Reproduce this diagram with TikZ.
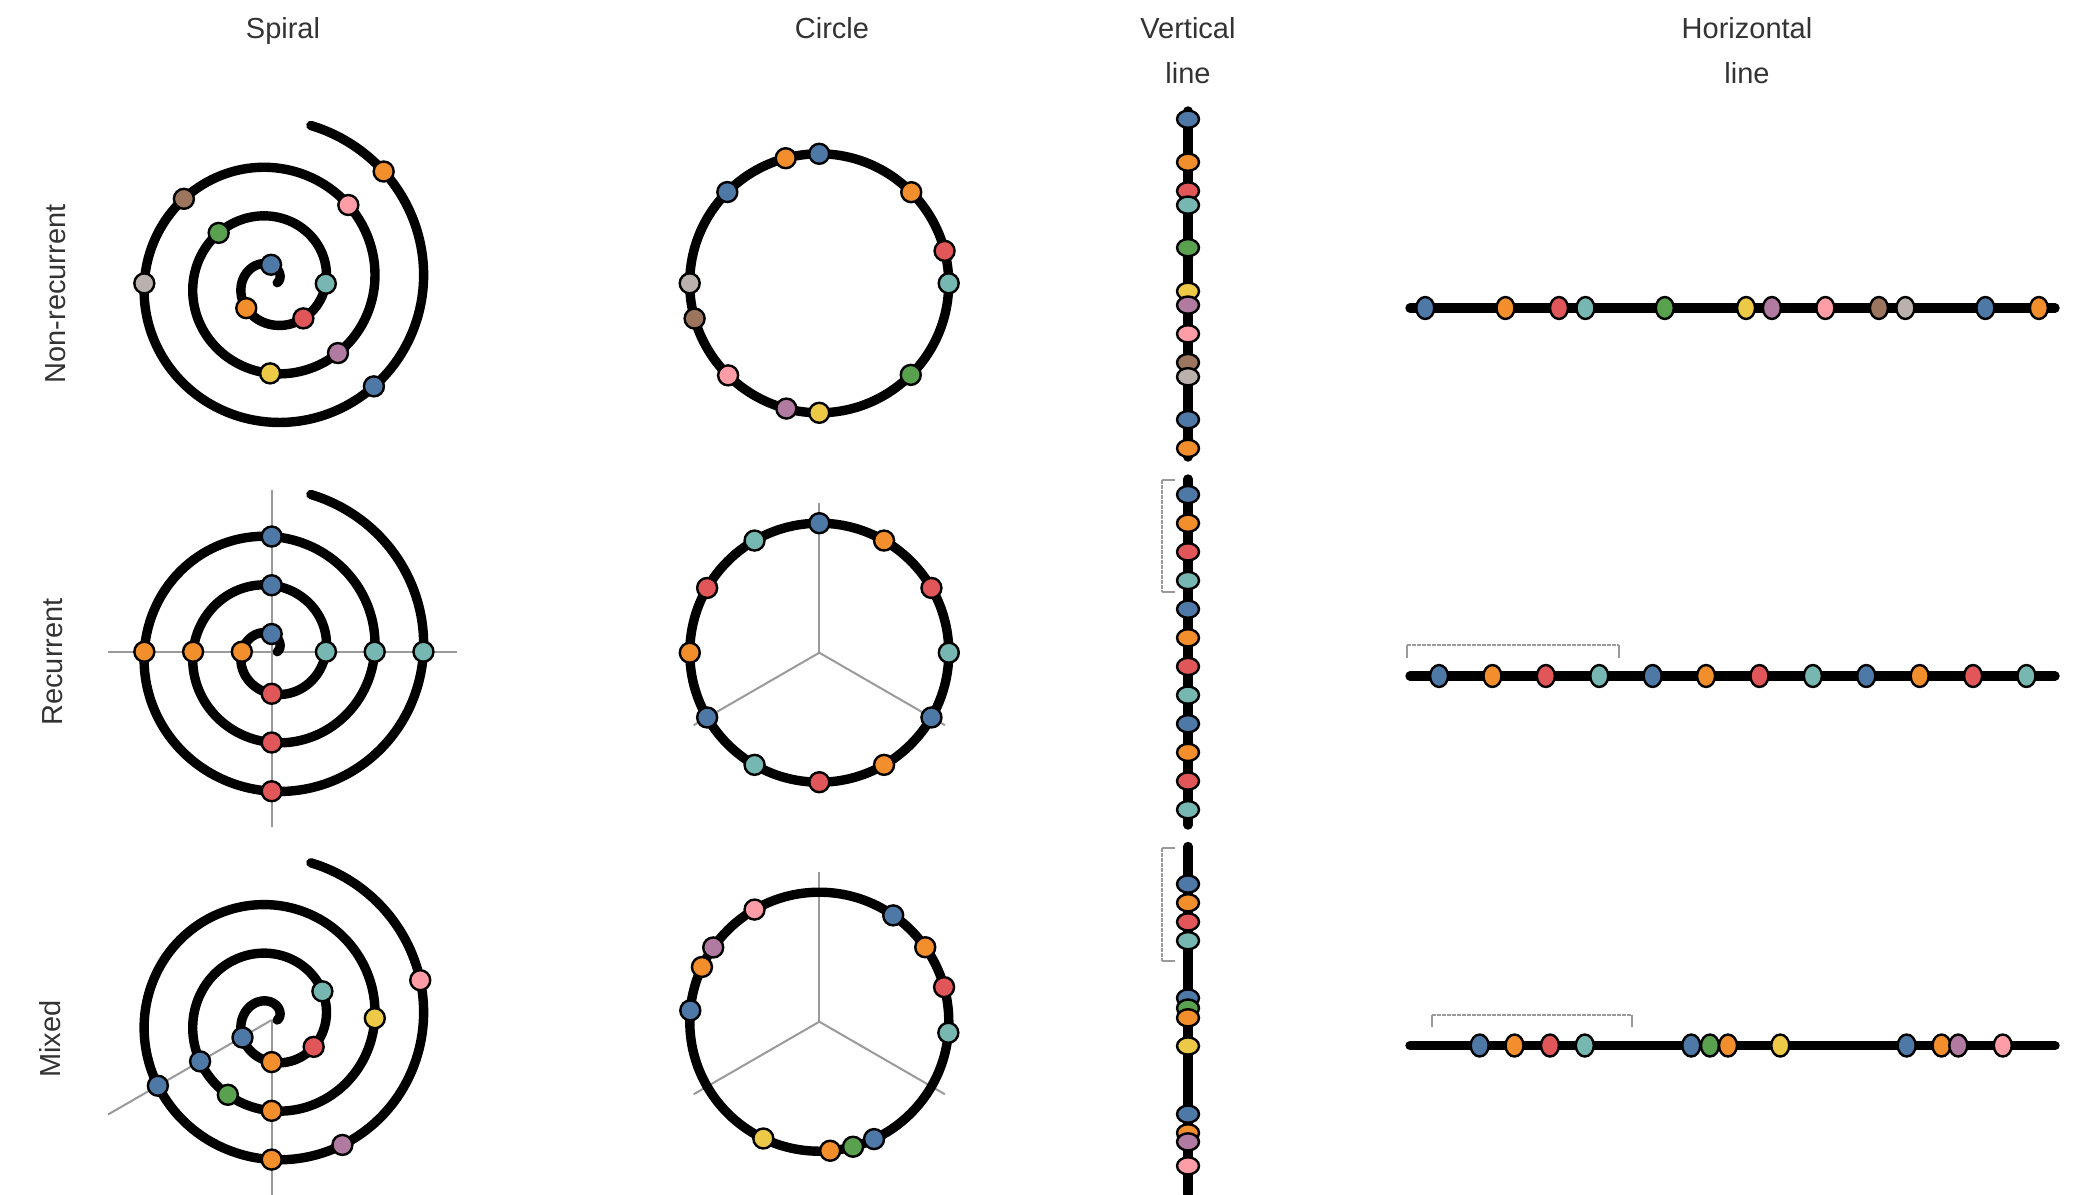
\documentclass[tikz,border=0pt]{standalone}
\usepackage{fontspec}
\setmainfont{Liberation Sans}
\usetikzlibrary{calc, shapes.geometric}

\definecolor{tblue}{HTML}{4E79A7}
\definecolor{torange}{HTML}{F28E2B}
\definecolor{tred}{HTML}{E15759}
\definecolor{tteal}{HTML}{76B7B2}
\definecolor{tgreen}{HTML}{59A14F}
\definecolor{tyellow}{HTML}{EDC948}
\definecolor{tpurple}{HTML}{B07AA1}
\definecolor{tpink}{HTML}{FF9DA7}
\definecolor{tbrown}{HTML}{9C755F}
\definecolor{tgray}{HTML}{BAB0AC}
\definecolor{labelgray}{HTML}{333333}
\definecolor{guidegray}{HTML}{9A9A9A}

% 螺旋半径 r = a + b*theta
\newcommand{\sprad}[1]{5.5+0.1354*#1}

\tikzset{
  track/.style={line width=4.7pt, line cap=round},
  pt/.style={circle, draw=black, line width=1.2pt, inner sep=0pt, minimum size=10pt},
  hpt/.style={ellipse, draw=black, line width=1.2pt, inner sep=0pt, minimum width=9pt, minimum height=11pt},
  vpt/.style={ellipse, draw=black, line width=1.2pt, inner sep=0pt, minimum width=11pt, minimum height=8.6pt},
  guide/.style={guidegray, line width=1pt},
  brace/.style={guidegray, line width=1pt},
  title/.style={font=\fontsize{14.5}{22.5}\selectfont, text=labelgray, inner sep=0pt, align=center, anchor=north},
  rowlabel/.style={font=\fontsize{14.5}{22.5}\selectfont, text=labelgray, inner sep=0pt, rotate=90}
}

\begin{document}
\begin{tikzpicture}[x=0.5pt, y=0.5pt, yscale=-1, xscale=1]
\useasboundingbox (0,0) rectangle (2075,1194);
%Text
\node[title] (tspiral) at (283,17) {Spiral};
\node[title] (tcircle) at (832,17) {Circle};
\node[title] (tvert) at (1188,17) {Vertical\\line};
\node[title] (thoriz) at (1747,17) {Horizontal\\line};
\node[rowlabel] (lnon) at (55.5,294) {Non-recurrent};
\node[rowlabel] (lrec) at (53,662) {Recurrent};
\node[rowlabel] (lmix) at (50.5,1039) {Mixed};

% 螺旋 非周期
\begin{scope}[shift={(271.7,282.7)}, yscale=-1]
\draw[track] plot[domain=0:1156, samples=400, smooth] (\x:{\sprad{\x}});
\foreach \a/\c [count=\i] in {92/tblue, 225/torange, 311.6/tred, 359/tteal, 496.8/tgreen, 629/tyellow, 673.3/tpurple, 765.4/tpink, 856.3/tbrown, 900.3/tgray, 1034.6/tblue, 1124.8/torange}
  \node[pt, fill=\c] (sn\i) at (\a:{\sprad{\a}}) {};
\end{scope}
% 螺旋 周期
\begin{scope}[shift={(271.7,651.7)}, yscale=-1]
\draw[guide] (-163.7,0) -- (185.3,0);
\draw[guide] (0,161.7) -- (0,-175.3);
\draw[track] plot[domain=0:1156, samples=400, smooth] (\x:{\sprad{\x}});
\foreach \c [count=\i] in {tblue, torange, tred, tteal, tblue, torange, tred, tteal, tblue, torange, tred, tteal}
  \node[pt, fill=\c] (sr\i) at ({90*\i}:{\sprad{90*\i}}) {};
\end{scope}
% 螺旋 混合
\begin{scope}[shift={(271.7,1020)}, yscale=-1]
\draw[guide] (0,0) -- (270:176);
\draw[guide] (0,0) -- (210:189);
\draw[track] plot[domain=0:1156, samples=400, smooth] (\x:{\sprad{\x}});
\foreach \a/\c [count=\i] in {211/tblue, 270/torange, 327.4/tred, 389.5/tteal, 570/tblue, 599.6/tgreen, 630/torange, 721/tyellow, 930/tblue, 990/torange, 1019.5/tpurple, 1095/tpink}
  \node[pt, fill=\c] (sm\i) at (\a:{\sprad{\a}}) {};
\end{scope}

% 圆 非周期
\begin{scope}[shift={(819.2,283.3)}, yscale=-1]
\draw[track] (0,0) circle[radius=129.5];
\foreach \a/\c [count=\i] in {90/tblue, 44.7/torange, 14.5/tred, 0/tteal, -45/tgreen, -90/tyellow, -104.7/tpurple, -134.7/tpink, -164.2/tbrown, -180/tgray, -224.8/tblue, -255/torange}
  \node[pt, fill=\c] (cn\i) at (\a:129.5) {};
\end{scope}
% 圆 周期
\begin{scope}[shift={(819.3,652.7)}, yscale=-1]
\draw[guide] (0,0) -- (90:149.4);
\draw[guide] (0,0) -- (210:145);
\draw[guide] (0,0) -- (330:145);
\draw[track] (0,0) circle[radius=129.5];
\foreach \c [count=\i] in {tblue, torange, tred, tteal, tblue, torange, tred, tteal, tblue, torange, tred, tteal}
  \node[pt, fill=\c] (cr\i) at ({120-30*\i}:129.5) {};
\end{scope}
% 圆 混合
\begin{scope}[shift={(819.3,1021.7)}, yscale=-1]
\draw[guide] (0,0) -- (90:150);
\draw[guide] (0,0) -- (210:145);
\draw[guide] (0,0) -- (330:145);
\draw[track] (0,0) circle[radius=129.5];
\foreach \a/\c [count=\i] in {55.2/tblue, 35.1/torange, 15.5/tred, -4.9/tteal, -65/tblue, -74.9/tgreen, -85.2/torange, -115.6/tyellow, -185/tblue, -205/torange, -215/tpurple, -240/tpink}
  \node[pt, fill=\c] (cm\i) at (\a:129.5) {};
\end{scope}

% 竖线
\coordinate (vn-a) at (1188,111);  \coordinate (vn-b) at (1188,457);
\coordinate (vr-a) at (1188,479);  \coordinate (vr-b) at (1188,825);
\coordinate (vm-a) at (1188,846.5); \coordinate (vm-b) at (1188,1194);
\draw[brace] (1175,480.4) -- (1162,480.4) (1162,591.6) -- (1175,591.6);
\draw[brace, dash pattern=on 2pt off 0.5pt] (1162,480.4) -- (1162,591.6);
\draw[brace] (1175,848.3) -- (1162,848.3) (1162,960.8) -- (1175,960.8);
\draw[brace, dash pattern=on 2pt off 0.5pt] (1162,848.3) -- (1162,960.8);
\draw[track] (vn-a) -- (vn-b);
\draw[track] (vr-a) -- (vr-b);
\draw[track] (vm-a) -- (vm-b);
\foreach \f/\c [count=\i] in {0.0236/tblue, 0.148/torange, 0.231/tred, 0.272/tteal, 0.395/tgreen, 0.521/tyellow, 0.561/tpurple, 0.644/tpink, 0.727/tbrown, 0.768/tgray, 0.892/tblue, 0.975/torange}
  \node[vpt, fill=\c] (vn\i) at ($(vn-a)!\f!(vn-b)$) {};
\foreach \c [count=\i] in {tblue, torange, tred, tteal, tblue, torange, tred, tteal, tblue, torange, tred, tteal}
  \node[vpt, fill=\c] (vr\i) at ($(vr-a)!{0.045+0.0828*(\i-1)}!(vr-b)$) {};
\foreach \f/\c [count=\i] in {0.108/tblue, 0.162/torange, 0.217/tred, 0.271/tteal, 0.436/tblue, 0.465/tgreen, 0.493/torange, 0.574/tyellow, 0.770/tblue, 0.824/torange, 0.850/tpurple, 0.919/tpink}
  \node[vpt, fill=\c] (vm\i) at ($(vm-a)!\f!(vm-b)$) {};

% 横线
\coordinate (hn-a) at (1410,308);  \coordinate (hn-b) at (2055,308);
\coordinate (hr-a) at (1410,676);  \coordinate (hr-b) at (2055,676);
\coordinate (hm-a) at (1410,1045.5); \coordinate (hm-b) at (2055,1045.5);
\draw[brace] (1407,657.7) -- (1407,644.5) (1619,644.5) -- (1619,657.7);
\draw[brace, dash pattern=on 2pt off 0.5pt] (1407,644.5) -- (1619,644.5);
\draw[brace] (1432,1027) -- (1432,1015) (1632,1015) -- (1632,1027);
\draw[brace, dash pattern=on 2pt off 0.5pt] (1432,1015) -- (1632,1015);
\draw[track] (hn-a) -- (hn-b);
\draw[track] (hr-a) -- (hr-b);
\draw[track] (hm-a) -- (hm-b);
\foreach \f/\c [count=\i] in {0.0236/tblue, 0.148/torange, 0.231/tred, 0.272/tteal, 0.395/tgreen, 0.521/tyellow, 0.561/tpurple, 0.644/tpink, 0.727/tbrown, 0.768/tgray, 0.892/tblue, 0.975/torange}
  \node[hpt, fill=\c] (hn\i) at ($(hn-a)!\f!(hn-b)$) {};
\foreach \c [count=\i] in {tblue, torange, tred, tteal, tblue, torange, tred, tteal, tblue, torange, tred, tteal}
  \node[hpt, fill=\c] (hr\i) at ($(hr-a)!{0.045+0.0828*(\i-1)}!(hr-b)$) {};
\foreach \f/\c [count=\i] in {0.108/tblue, 0.162/torange, 0.217/tred, 0.271/tteal, 0.436/tblue, 0.465/tgreen, 0.493/torange, 0.574/tyellow, 0.770/tblue, 0.824/torange, 0.850/tpurple, 0.919/tpink}
  \node[hpt, fill=\c] (hm\i) at ($(hm-a)!\f!(hm-b)$) {};
\end{tikzpicture}
\end{document}
